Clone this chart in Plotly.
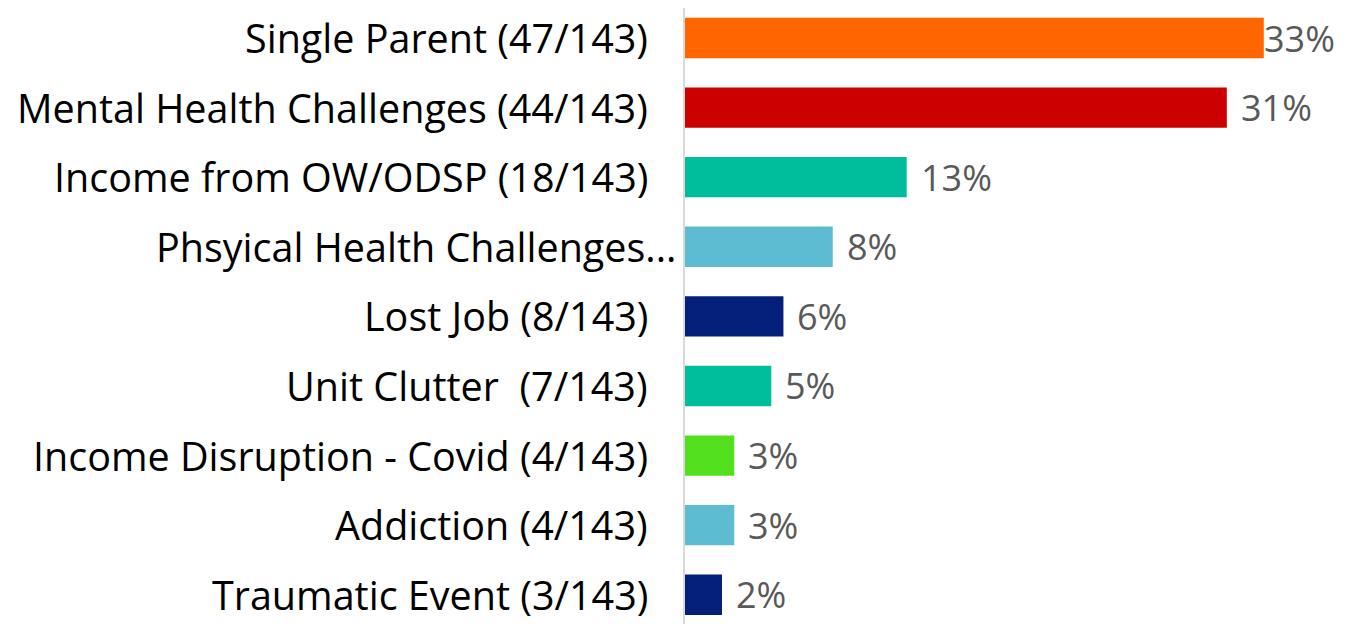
import plotly.graph_objects as go

categories = [
    "Single Parent (47/143)",
    "Mental Health Challenges (44/143)",
    "Income from OW/ODSP (18/143)",
    "Phsyical Health Challenges...",
    "Lost Job (8/143)",
    "Unit Clutter  (7/143)",
    "Income Disruption - Covid (4/143)",
    "Addiction (4/143)",
    "Traumatic Event (3/143)",
]
values = [32.87, 30.77, 12.59, 8.39, 5.59, 4.90, 2.80, 2.80, 2.10]
value_labels = ["33%", "31%", "13%", "8%", "6%", "5%", "3%", "3%", "2%"]
colors = ["#FF6600", "#CC0000", "#00BE9B", "#5EBCD2", "#041F7A",
          "#00BE9B", "#52E01E", "#5EBCD2", "#041F7A"]

FONT = "Open Sans"
LABEL_SIZE = 39.5
VAL_SIZE = 36

fig = go.Figure(go.Bar(
    x=values, y=categories, orientation="h",
    marker=dict(color=colors, line=dict(width=0)),
    width=0.58, hoverinfo="skip",
))

ann = []
for i, (c, v, t) in enumerate(zip(categories, values, value_labels)):
    ann.append(dict(x=0, y=c, xref="x", yref="y", text=c, showarrow=False,
                    xanchor="right", yanchor="middle",
                    xshift=-7 if c.endswith("...") else -35,
                    font=dict(family=FONT, size=LABEL_SIZE, color="#000000")))
    ann.append(dict(x=v, y=c, xref="x", yref="y", text=t, showarrow=False,
                    xanchor="left", yanchor="middle",
                    xshift=-2 if i == 0 else 12,
                    font=dict(family=FONT, size=VAL_SIZE, color="#595959")))

fig.update_layout(
    width=1347, height=616,
    margin=dict(l=677, r=0, t=0, b=0),
    paper_bgcolor="white", plot_bgcolor="white",
    showlegend=False,
    annotations=ann,
    xaxis=dict(range=[0, 38.05], visible=False, fixedrange=True),
    yaxis=dict(type="category", categoryorder="array", categoryarray=categories,
               range=[8.42, -0.431], showticklabels=False, showgrid=False,
               zeroline=False, showline=True, linecolor="#D9D9D9", linewidth=2,
               ticks=""),
)

fig.write_html("out.html")
